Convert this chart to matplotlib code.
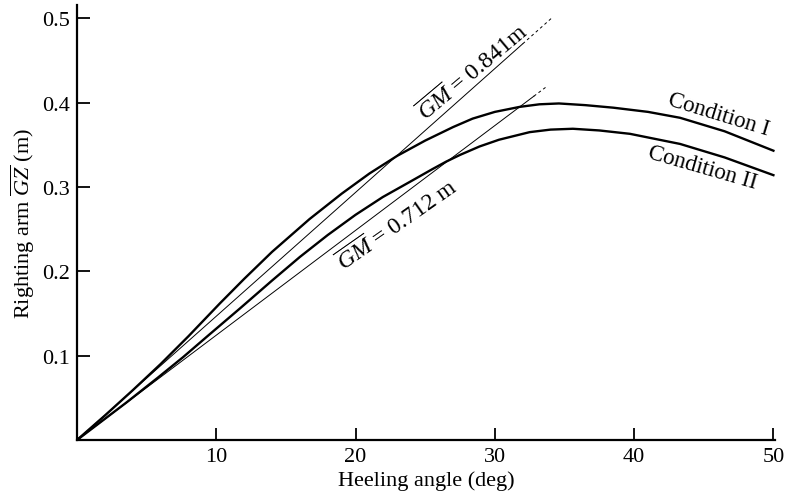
import numpy as np
import matplotlib
matplotlib.use("Agg")
import matplotlib.pyplot as plt

plt.rcParams["font.family"] = ["Liberation Serif", "DejaVu Serif"]
plt.rcParams["mathtext.fontset"] = "custom"
plt.rcParams["mathtext.rm"] = "Liberation Serif"
plt.rcParams["mathtext.it"] = "Liberation Serif:italic"

# righting arm curves (deg, m)
cond1_angle = [0, 2, 4, 6, 8, 10.26, 12, 14, 16.7, 19, 21, 23, 25, 27, 28.4,
               30, 31.8, 33.2, 34.6, 36.5, 38.5, 41, 43.3, 46.5, 50]
cond1_gz = [0, 0.029, 0.059, 0.090, 0.123, 0.162, 0.191, 0.223, 0.262, 0.292,
            0.316, 0.337, 0.355, 0.371, 0.381, 0.389, 0.395, 0.398, 0.399,
            0.397, 0.394, 0.389, 0.382, 0.366, 0.343]

cond2_angle = [0, 3.59, 5.81, 7.6, 9.5, 11.7, 14, 16, 18, 20, 21.95, 24, 25.5,
               26.5, 27.5, 28.9, 30.3, 32.5, 34, 35.6, 37.5, 39.7, 43.3, 46.5, 50]
cond2_gz = [0, 0.045, 0.074, 0.098, 0.125, 0.156, 0.189, 0.217, 0.243, 0.267,
            0.288, 0.307, 0.321, 0.330, 0.338, 0.348, 0.356, 0.365, 0.368,
            0.369, 0.367, 0.363, 0.351, 0.335, 0.314]

# initial metacentric heights (m) and where each tangent line stops (deg)
gm_values = [0.841, 0.712]
gm_solid_end = [32.0, 32.8]
gm_dash_end = [34.15, 33.8]

x_ticks = [10, 20, 30, 40, 50]
y_ticks = [0.1, 0.2, 0.3, 0.4, 0.5]

fig = plt.figure(figsize=(7.89, 5.02), dpi=100)
ax = fig.add_axes([0.0976, 0.1215, 0.8844, 0.867])

ax.plot(cond1_angle, cond1_gz, color="black", lw=1.7, solid_joinstyle="round")
ax.plot(cond2_angle, cond2_gz, color="black", lw=1.7, solid_joinstyle="round")

# tangent lines at origin: GZ = GM * phi (phi in rad)
for gm, x_solid, x_end in zip(gm_values, gm_solid_end, gm_dash_end):
    ax.plot([0, x_solid], [0, gm * np.radians(x_solid)], color="black", lw=0.7)
    ax.plot([x_solid, x_end], [gm * np.radians(x_solid), gm * np.radians(x_end)],
            color="black", lw=0.7, ls=(0, (3, 3)))

ax.text(28.4, 0.437, r"$\overline{GM}$ = 0.841m", rotation=40, fontsize=17,
        ha="center", va="center", rotation_mode="anchor")
ax.text(23.0, 0.256, r"$\overline{GM}$ = 0.712 m", rotation=35, fontsize=17,
        ha="center", va="center", rotation_mode="anchor")
ax.text(46.1, 0.387, "Condition I", rotation=-17, fontsize=16.5,
        ha="center", va="center", rotation_mode="anchor")
ax.text(44.9, 0.324, "Condition II", rotation=-16, fontsize=16.5,
        ha="center", va="center", rotation_mode="anchor")

ax.set_xlim(0, 50.1)
ax.set_ylim(0, 0.516)
ax.set_xticks(x_ticks)
ax.set_yticks(y_ticks)
ax.set_yticklabels([f"{v:.1f}" for v in y_ticks])
ax.tick_params(direction="in", length=9, width=1.3, labelsize=16, pad=5)

for spine in ["top", "right"]:
    ax.spines[spine].set_visible(False)
for spine in ["left", "bottom"]:
    ax.spines[spine].set_linewidth(1.6)

ax.set_xlabel("Heeling angle (deg)", fontsize=16, labelpad=3)
ax.set_ylabel(r"Righting arm $\overline{GZ}$ (m)", fontsize=16, labelpad=4)

fig.savefig("out.png", dpi=100, facecolor="white")
